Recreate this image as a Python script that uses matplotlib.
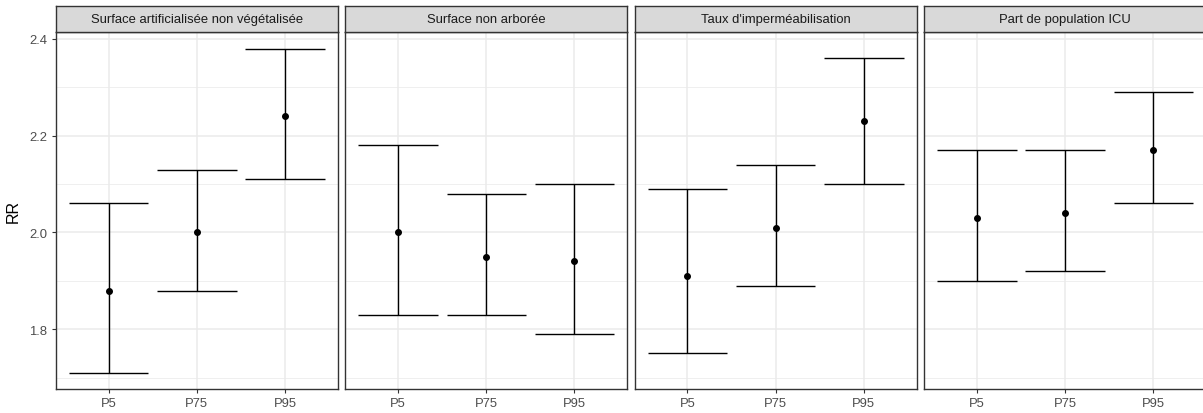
import numpy as np
import matplotlib
matplotlib.use("Agg")
import matplotlib.pyplot as plt

plt.rcParams["font.family"] = ["Liberation Sans", "DejaVu Sans"]

categories = ["P5", "P75", "P95"]
panels = [
    "Surface artificialisée non végétalisée",
    "Surface non arborée",
    "Taux d'imperméabilisation",
    "Part de population ICU",
]

# RR estimates and confidence bounds per panel
surf_art_rr = [1.88, 2.00, 2.24]
surf_art_lo = [1.71, 1.88, 2.11]
surf_art_hi = [2.06, 2.13, 2.38]

non_arbo_rr = [2.00, 1.95, 1.94]
non_arbo_lo = [1.83, 1.83, 1.79]
non_arbo_hi = [2.18, 2.08, 2.10]

impermea_rr = [1.91, 2.01, 2.23]
impermea_lo = [1.75, 1.89, 2.10]
impermea_hi = [2.09, 2.14, 2.36]

pop_icu_rr = [2.03, 2.04, 2.17]
pop_icu_lo = [1.90, 1.92, 2.06]
pop_icu_hi = [2.17, 2.17, 2.29]

rr_all = [surf_art_rr, non_arbo_rr, impermea_rr, pop_icu_rr]
lo_all = [surf_art_lo, non_arbo_lo, impermea_lo, pop_icu_lo]
hi_all = [surf_art_hi, non_arbo_hi, impermea_hi, pop_icu_hi]

W, H = 1203, 414
fig = plt.figure(figsize=(W / 100, H / 100), dpi=100)
fig.patch.set_facecolor("white")

border = "#333333"
grid_c = "#EBEBEB"
tick_c = "#4D4D4D"

panel_w = 282.3
step = 289.4
left0 = 55.7
top_px = 33.3
bot_px = 390.0
strip_h = 26.0

ymin, ymax = 1.6765, 2.4135
x = np.arange(len(categories))

for i, name in enumerate(panels):
    left = left0 + i * step
    ax = fig.add_axes([left / W, 1 - bot_px / H, panel_w / W, (bot_px - top_px) / H])
    ax.set_facecolor("white")
    ax.set_xlim(-0.6, 2.6)
    ax.set_ylim(ymin, ymax)

    ax.set_yticks([1.8, 2.0, 2.2, 2.4])
    ax.set_yticks([1.7, 1.9, 2.1, 2.3], minor=True)
    ax.set_xticks(x)
    ax.set_xticklabels(categories)
    ax.grid(True, which="major", color=grid_c, linewidth=1.1)
    ax.grid(True, which="minor", axis="y", color=grid_c, linewidth=0.55)
    ax.set_axisbelow(True)

    ax.tick_params(axis="both", which="major", length=3, width=0.8, color=border,
                   labelcolor=tick_c, labelsize=9.4, pad=3)
    ax.tick_params(axis="y", which="minor", length=0)
    if i == 0:
        ax.set_ylabel("RR", fontsize=11.5, color="black", labelpad=6)
    else:
        ax.tick_params(axis="y", which="major", length=0, labelleft=False)

    for s in ax.spines.values():
        s.set_color(border)
        s.set_linewidth(1.0)

    rr, lo, hi = rr_all[i], lo_all[i], hi_all[i]
    ax.vlines(x, lo, hi, color="black", linewidth=1.0, zorder=3)
    ax.hlines(lo, x - 0.45, x + 0.45, color="black", linewidth=1.0, zorder=3)
    ax.hlines(hi, x - 0.45, x + 0.45, color="black", linewidth=1.0, zorder=3)
    ax.scatter(x, rr, s=16, color="black", zorder=4)

    sax = fig.add_axes([left / W, 1 - top_px / H, panel_w / W, strip_h / H])
    sax.set_facecolor("#D9D9D9")
    sax.set_xticks([])
    sax.set_yticks([])
    for s in sax.spines.values():
        s.set_color(border)
        s.set_linewidth(1.0)
    sax.text(0.5, 0.5, name, ha="center", va="center", fontsize=9.4,
             color="#1A1A1A", transform=sax.transAxes)

fig.savefig("out.png", dpi=100, facecolor="white")
